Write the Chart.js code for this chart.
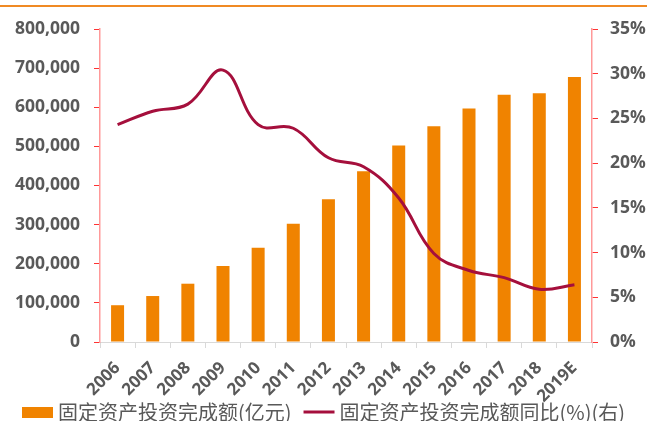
<!DOCTYPE html>
<html>
<head>
<meta charset="utf-8">
<script src="https://cdn.jsdelivr.net/npm/chart.js@4/dist/chart.umd.min.js"></script>
<style>
  html, body { margin: 0; padding: 0; background: #fff; }
  #wrap { width: 647px; height: 421px; }
</style>
</head>
<body>
<div id="wrap"><canvas id="chart"></canvas></div>
<script>
const years = ['2006', '2007', '2008', '2009', '2010', '2011', '2012', '2013', '2014', '2015', '2016', '2017', '2018', '2019E'];
const investment = [94000, 117500, 149000, 194000, 241000, 302500, 364800, 436500, 502000, 551600, 596500, 631700, 635600, 677000];
const growth = [24.3, 25.8, 26.6, 30.4, 24.3, 23.9, 20.6, 19.6, 16.1, 9.9, 8.0, 7.2, 5.9, 6.4];
const leftTicks = [0, 100000, 200000, 300000, 400000, 500000, 600000, 700000, 800000];
const rightTicks = [0, 5, 10, 15, 20, 25, 30, 35];

const orange = '#F08300';
const crimson = '#A50F3C';
const grey = '#595959';
const tickFont = { family: 'Open Sans, Noto Sans', size: 17.5, weight: 'bold' };

// orange rule along the top of the picture
const topRule = {
  id: 'topRule',
  beforeDraw(chart) {
    const ctx = chart.ctx;
    ctx.save();
    ctx.fillStyle = '#F08A24';
    ctx.fillRect(0, 5, chart.width, 2);
    ctx.restore();
  }
};

// legend row drawn by hand so it sits tight under the rotated year labels
const bottomLegend = {
  id: 'bottomLegend',
  afterDraw(chart) {
    const ctx = chart.ctx;
    const bar = chart.data.datasets[1];
    const line = chart.data.datasets[0];
    const y = 412;
    ctx.save();
    ctx.font = '20px "Noto Sans CJK SC"';
    ctx.textBaseline = 'middle';
    ctx.fillStyle = bar.backgroundColor;
    ctx.fillRect(22, 407, 31, 11);
    ctx.fillStyle = grey;
    ctx.fillText(bar.label, 58, y);
    const x2 = 58 + ctx.measureText(bar.label).width + 12;
    ctx.strokeStyle = line.borderColor;
    ctx.lineWidth = 3;
    ctx.beginPath();
    ctx.moveTo(x2, y);
    ctx.lineTo(x2 + 31, y);
    ctx.stroke();
    ctx.fillText(line.label, x2 + 36, y);
    ctx.restore();
  }
};

new Chart(document.getElementById('chart'), {
  type: 'bar',
  data: {
    labels: years,
    datasets: [
      {
        type: 'line',
        label: '固定资产投资完成额同比(%)(右)',
        data: growth,
        yAxisID: 'y2',
        borderColor: crimson,
        backgroundColor: crimson,
        borderWidth: 3,
        tension: 0.4,
        pointRadius: 0,
        order: 0
      },
      {
        label: '固定资产投资完成额(亿元)',
        data: investment,
        yAxisID: 'y',
        backgroundColor: orange,
        barPercentage: 0.37,
        categoryPercentage: 1,
        order: 1
      }
    ]
  },
  options: {
    responsive: true,
    maintainAspectRatio: false,
    animation: false,
    layout: { padding: { top: 29, left: 0, right: 0, bottom: 0 } },
    plugins: {
      tooltip: { enabled: false },
      legend: { display: false }
    },
    scales: {
      x: {
        afterFit(axis) { axis.height = 79; },
        grid: { drawOnChartArea: false, color: '#D9D9D9', tickLength: 6, offset: true },
        border: { color: '#D9D9D9' },
        ticks: { font: { family: 'Open Sans, Noto Sans', size: 17, weight: 'bold' }, color: grey, maxRotation: 45, minRotation: 45, padding: 10 }
      },
      y: {
        position: 'left',
        min: 0,
        max: 800000,
        afterBuildTicks(axis) { axis.ticks = leftTicks.map(v => ({ value: v })); },
        afterFit(axis) { axis.width = 100; },
        grid: { drawOnChartArea: false, color: '#FF3333', tickLength: 6 },
        border: { color: '#FF9999', width: 1.5 },
        ticks: {
          font: tickFont,
          color: grey,
          padding: 14,
          callback: v => v.toLocaleString('en-US')
        }
      },
      y2: {
        position: 'right',
        min: 0,
        max: 35,
        afterBuildTicks(axis) { axis.ticks = rightTicks.map(v => ({ value: v })); },
        afterFit(axis) { axis.width = 55; },
        grid: { drawOnChartArea: false, color: '#FF3333', tickLength: 6 },
        border: { color: '#FF9999', width: 1.5 },
        ticks: {
          font: tickFont,
          color: grey,
          padding: 12,
          callback: v => v + '%'
        }
      }
    }
  },
  plugins: [topRule, bottomLegend]
});
</script>
</body>
</html>
